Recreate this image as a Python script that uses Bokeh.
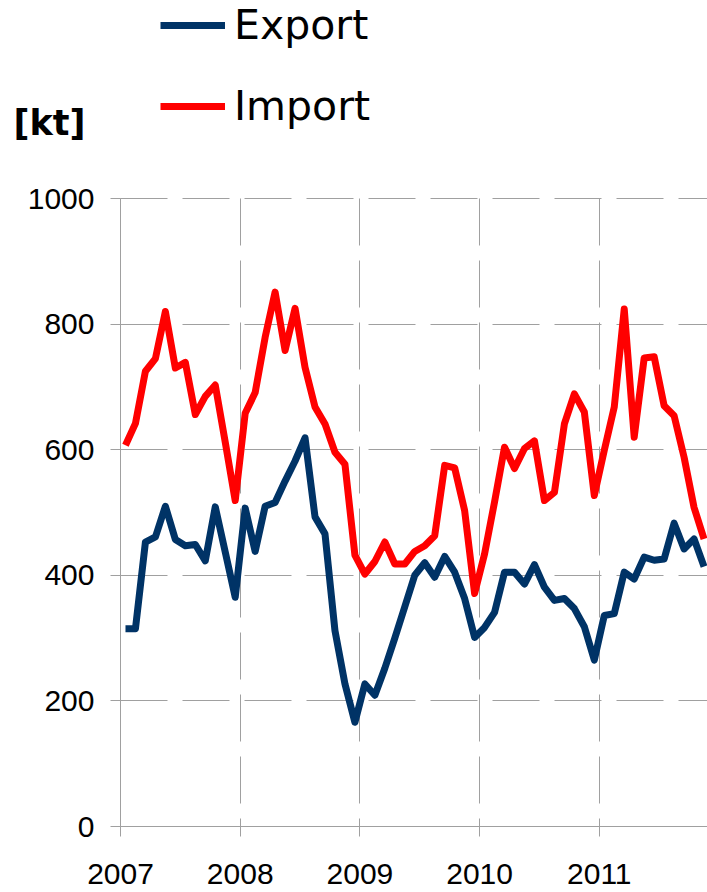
from bokeh.plotting import figure
from bokeh.models import Range1d, FixedTicker, Legend, LegendItem, Label, BasicTickFormatter
from bokeh.embed import file_html
from bokeh.resources import INLINE

# ---- data (kt per month, Jan 2007 .. Nov 2011) ----
first_year = 2007
year_ticks = [2007, 2008, 2009, 2010, 2011]
value_ticks = [0, 200, 400, 600, 800, 1000]

export_kt = [315, 315, 453, 461, 510, 457, 447, 449, 423, 509, 437, 365,
             507, 438, 510, 516, 550, 582, 619, 493, 466, 312, 227, 166,
             227, 209, 252, 300, 350, 400, 420, 397, 430, 405, 363, 301,
             317, 341, 405, 405, 386, 417, 381, 360, 363, 347, 318, 265,
             336, 339, 405, 394, 429, 424, 426, 483, 442, 458, 414]

import_kt = [607, 642, 725, 745, 820, 730, 739, 656, 685, 703, 612, 519,
             658, 691, 779, 851, 758, 825, 731, 668, 641, 596, 577, 432,
             402, 422, 453, 418, 418, 438, 447, 463, 575, 571, 503, 371,
             434, 517, 604, 570, 602, 614, 519, 532, 641, 689, 660, 527,
             599, 668, 824, 620, 746, 748, 670, 654, 588, 508, 458]

series_names = ["Export", "Import"]
unit_label = "[kt]"

x = [first_year + (i + 0.5) / 12 for i in range(len(export_kt))]

# ---- layout (pixels) ----
W, H = 707, 892
PLOT_LEFT, PLOT_TOP, PLOT_BOTTOM = 120, 198, 826
PX_PER_YEAR = 119.7
Y_MIN, Y_MAX = value_ticks[0], value_ticks[-1]
px_per_unit = (PLOT_BOTTOM - PLOT_TOP) / (Y_MAX - Y_MIN)

x_start = year_ticks[0] - PLOT_LEFT / PX_PER_YEAR
x_end = year_ticks[0] + (W - PLOT_LEFT) / PX_PER_YEAR
y_start = Y_MIN - (H - PLOT_BOTTOM) / px_per_unit
y_end = Y_MAX + PLOT_TOP / px_per_unit

GRID = "#a0a0a0"

p = figure(width=W, height=H, output_backend="svg", toolbar_location=None,
           x_range=Range1d(x_start, x_end), y_range=Range1d(y_start, y_end),
           min_border=0, min_border_left=0, min_border_right=0,
           min_border_top=0, min_border_bottom=0)
p.outline_line_color = None
p.background_fill_color = "white"
p.border_fill_color = "white"

r_exp = p.line(x, export_kt, line_color="#003366", line_width=7, line_join="round")
r_imp = p.line(x, import_kt, line_color="#ff0000", line_width=7, line_join="round")

# axes drawn at fixed positions inside the frame
xa = p.xaxis[0]
ya = p.yaxis[0]
xa.fixed_location = Y_MIN
ya.fixed_location = year_ticks[0]
xa.bounds = (year_ticks[0], x_end)
ya.bounds = (Y_MIN, Y_MAX)
xa.ticker = FixedTicker(ticks=year_ticks)
ya.ticker = FixedTicker(ticks=value_ticks)
xa.formatter = BasicTickFormatter(use_scientific=False)
ya.formatter = BasicTickFormatter(use_scientific=False)
for ax in (xa, ya):
    ax.axis_line_color = GRID
    ax.axis_line_width = 1
    ax.major_tick_line_color = GRID
    ax.major_tick_out = 10
    ax.major_tick_in = 0
    ax.minor_tick_line_color = None
    ax.major_label_text_font = "Liberation Sans"
    ax.major_label_text_font_size = "30px"
    ax.major_label_text_color = "black"
ya.major_label_standoff = 16
xa.major_label_standoff = 27

# grid
xg = p.xgrid[0]
yg = p.ygrid[0]
for g in (xg, yg):
    g.grid_line_color = GRID
    g.grid_line_width = 1
    g.grid_line_dash = "47 15"
xg.cross_bounds = (Y_MIN, Y_MAX)
yg.cross_bounds = (year_ticks[0], x_end)
xg.grid_line_dash_offset = 39

# legend
legend = Legend(items=[LegendItem(label=series_names[0], renderers=[r_exp]),
                       LegendItem(label=series_names[1], renderers=[r_imp])],
                location=(160, H - 131), orientation="vertical", padding=0, margin=0,
                spacing=31, glyph_width=65, glyph_height=50, label_height=50,
                label_standoff=9, label_text_font="DejaVu Sans",
                label_text_font_size="41px", label_text_color="black",
                border_line_color=None, background_fill_alpha=0)
p.add_layout(legend, "center")

p.add_layout(Label(x=13, y=H - 122, x_units="screen", y_units="screen", text=unit_label,
                   text_font="DejaVu Sans", text_font_style="bold",
                   text_font_size="35px", text_baseline="alphabetic",
                   text_color="black"))

open("out.html", "w").write(file_html(p, INLINE))
